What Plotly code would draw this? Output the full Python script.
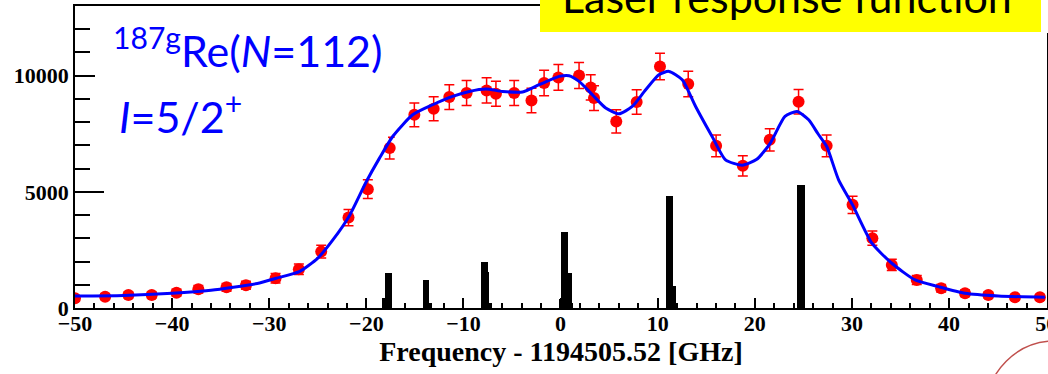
import plotly.graph_objects as go

# ---------------- data ----------------
pt_x = [-50, -46.9, -44.5, -42.1, -39.55, -37.3, -34.4, -32.4, -29.35, -26.95,
        -24.65, -21.84, -19.85, -17.6, -15.06, -13.07, -11.46, -9.68, -7.62, -6.66,
        -4.78, -3.0, -1.70, -0.23, 1.90, 3.10, 3.44, 5.73, 7.83, 10.23,
        13.14, 16.01, 18.76, 21.53, 24.5, 27.39, 30.06, 32.1, 34.1, 36.67,
        39.18, 41.64, 44.04, 46.78, 49.35]
pt_y = [420, 487, 560, 560, 660, 806, 892, 978, 1280, 1668,
        2427, 3892, 5116, 6883, 8318, 8577, 9081, 9253, 9366, 9223,
        9253, 8935, 9684, 9926, 10012, 9495, 9038, 8030, 8866, 10400,
        9641, 6982, 6120, 7240, 8880, 6980, 4440, 3003, 1853, 1207,
        849, 633, 560, 461, 461]
pt_err = [115, 124, 133, 133, 144, 159, 167, 175, 200, 229,
          276, 349, 400, 465, 511, 519, 534, 539, 542, 538,
          539, 529, 551, 558, 560, 546, 532, 502, 527, 571,
          550, 468, 438, 477, 528, 468, 373, 307, 241, 195,
          163, 141, 133, 120, 120]

fit_x = [-50, -45, -40, -36, -33.7, -31, -29.3, -26.9, -25, -23.45,
         -21.7, -20.0, -18.65, -17.29, -15.23, -13.17, -11.12, -9.4, -7.69, -5.98,
         -3.92, -2.21, -0.15, 0.87, 1.9, 3.27, 4.64, 6.01, 7.38, 8.76,
         10.12, 11.15, 12.52, 13.9, 15.6, 16.98, 18.7, 20.2, 21.6, 23.1,
         24.34, 25.54, 26.5, 27.4, 28.62, 30.06, 32.05, 34.1, 36.5, 38.9,
         41.64, 45.07, 49.86]
fit_y = [517, 540, 633, 760, 892, 1078, 1280, 1565, 2150, 2931,
         4008, 5444, 6452, 7383, 8318, 8749, 9107, 9322, 9426, 9322,
         9297, 9611, 9969, 9999, 9753, 9180, 8607, 8361, 8676, 9396,
         10042, 10185, 9827, 8676, 7383, 6379, 6150, 6400, 7100, 8245,
         8460, 8100, 7500, 6950, 5517, 4440, 2789, 1926, 1207, 918,
         633, 517, 461]

bar_x = [-18.18, -17.86, -17.57,
         -14.03, -13.70, -13.45,
         -8.03, -7.70, -7.53, -7.29,
         -0.02, 0.255, 0.595, 0.965, 1.105,
         11.045, 11.385, 11.725, 11.895,
         24.515, 24.735, 24.955]
bar_y = [420, 1500, 1500,
         1210, 1210, 200,
         1970, 1970, 1565, 200,
         390, 3260, 3260, 1495, 200,
         4800, 4800, 950, 200,
         5300, 5300, 5300]

x_ticks = [-50, -40, -30, -20, -10, 0, 10, 20, 30, 40, 50]
y_ticks = [0, 5000, 10000]
y_tick_text = ["0", "5000", "10000"]

x_title = "Frequency - 1194505.52 [GHz]"
label1 = "<sup>187g</sup>Re(<i>N</i>=112)"
label2 = "<i>I</i>=5/2<sup>+</sup>"
banner = "Laser response function"

# ---------------- layout constants ----------------
W, H = 1048, 374
L, R, T, B = 75, 1, 6, 66
PW, PH = W - L - R, H - T - B
BAR_W = 0.35


def px(xp):
    return (xp - L) / PW


def py(yp):
    return (H - B - yp) / PH


fig = go.Figure()
# draw bars in ascending height so taller ones sit on top
order = sorted(range(len(bar_x)), key=lambda i: bar_y[i])
fig.add_trace(go.Bar(x=[bar_x[i] for i in order], y=[bar_y[i] for i in order], width=BAR_W,
                     marker=dict(color="black", line=dict(width=0)),
                     showlegend=False, hoverinfo="skip"))
fig.add_trace(go.Scatter(x=pt_x, y=pt_y, mode="markers",
                         marker=dict(color="#ff0000", size=12, line=dict(width=0)),
                         error_y=dict(type="data", array=pt_err, color="#ff0000",
                                      thickness=1.5, width=5),
                         showlegend=False))
fig.add_trace(go.Scatter(x=fit_x, y=fit_y, mode="lines",
                         line=dict(color="#0000ff", width=3, shape="spline", smoothing=0.6),
                         showlegend=False))

tick_font = dict(family="Liberation Serif", size=22, color="black", weight="bold")

fig.update_layout(
    width=W, height=H,
    margin=dict(l=L, r=R, t=T, b=B, autoexpand=False),
    paper_bgcolor="white", plot_bgcolor="white",
    bargap=0, barmode="overlay",
    xaxis=dict(range=[-50, 50.08], tickvals=x_ticks, ticklabeloverflow="allow",
               ticklabelstandoff=-5,
               ticks="inside", ticklen=10, tickwidth=1.5, tickcolor="black",
               minor=dict(dtick=2, ticks="inside", ticklen=5, tickwidth=1.5, tickcolor="black"),
               showline=True, linecolor="black", linewidth=1.5, mirror=True,
               showgrid=False, zeroline=False, tickfont=tick_font, automargin=False,
               title=dict(text=x_title, font=dict(family="Liberation Serif", size=28,
                                                  color="black", weight="bold"),
                          standoff=6)),
    yaxis=dict(range=[0, 13000], tickvals=y_ticks, ticktext=y_tick_text,
               ticks="inside", ticklen=29, tickwidth=1.5, tickcolor="black",
               minor=dict(dtick=1000, ticks="inside", ticklen=15, tickwidth=1.5, tickcolor="black"),
               showline=True, linecolor="black", linewidth=1.5, mirror=True,
               showgrid=False, zeroline=False, tickfont=tick_font, automargin=False),
    font=dict(family="Lato"),
)

shapes = [
    # white box behind the isotope label (hides part of the 10000 tick)
    dict(type="rect", xref="paper", yref="paper", x0=px(95), x1=px(388), y0=py(140), y1=py(22),
         fillcolor="white", line=dict(width=0), layer="above"),
    # white strip at top right, then the yellow banner
    dict(type="rect", xref="paper", yref="paper", x0=px(540), x1=px(W + 5), y0=py(33), y1=py(-5),
         fillcolor="white", line=dict(width=0), layer="above"),
    dict(type="rect", xref="paper", yref="paper", x0=px(540), x1=px(1041), y0=py(32), y1=py(-5),
         fillcolor="#ffff00", line=dict(width=0), layer="above"),
    # red circle, bottom right
    dict(type="circle", xref="paper", yref="paper", x0=px(986), x1=px(1124), y0=py(479), y1=py(341),
         fillcolor="rgba(0,0,0,0)", line=dict(color="#c0504d", width=1.5), layer="above"),
]
fig.update_layout(shapes=shapes)

fig.add_annotation(text=label1, xref="paper", yref="paper", x=px(111), y=py(47),
                   xanchor="left", yanchor="middle", showarrow=False,
                   font=dict(family="Lato", size=43, color="#0000ff"))
fig.add_annotation(text=label2, xref="paper", yref="paper", x=px(117), y=py(113),
                   xanchor="left", yanchor="middle", showarrow=False,
                   font=dict(family="Lato", size=43, color="#0000ff"))
fig.add_annotation(text=banner, xref="paper", yref="paper", x=px(560), y=py(-4),
                   xanchor="left", yanchor="middle", showarrow=False,
                   font=dict(family="Lato", size=43, color="black"))

fig.write_html("out.html")
